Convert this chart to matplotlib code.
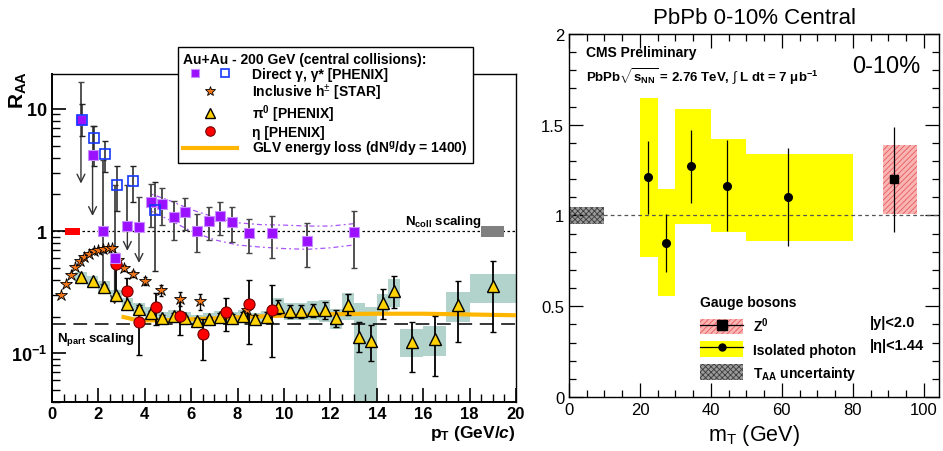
import matplotlib
matplotlib.use('Agg')
import matplotlib.pyplot as plt
from matplotlib.lines import Line2D
from matplotlib.patches import Patch
from matplotlib.legend_handler import HandlerTuple
from matplotlib.ticker import MultipleLocator, FixedLocator, NullFormatter, FuncFormatter

plt.rcParams['font.family'] = ['Liberation Sans', 'DejaVu Sans']
plt.rcParams['mathtext.fontset'] = 'custom'
plt.rcParams['mathtext.rm'] = 'Liberation Sans'
plt.rcParams['mathtext.bf'] = 'Liberation Sans:bold'
plt.rcParams['mathtext.it'] = 'Liberation Sans:italic'
has_bfit = 'mathtext.bfit' in plt.rcParams
if has_bfit:
    plt.rcParams['mathtext.bfit'] = 'Liberation Sans:bold:italic'
plt.rcParams['hatch.linewidth'] = 0.6

# ---- left panel: RHIC Au+Au R_AA ----
# direct photons, filled (PHENIX)
x_dg = [1.25, 1.75, 2.2, 2.7, 3.25, 3.75, 4.25, 4.75, 5.25, 5.75, 6.25, 6.75, 7.25, 7.75, 8.5, 9.5, 11.0, 13.0]
y_dg = [8.1, 4.2, 1.0, 0.6, 1.11, 1.08, 1.72, 1.67, 1.30, 1.43, 1.01, 1.21, 1.34, 1.19, 0.96, 0.96, 0.83, 0.98]
hi_dg = [16.5, 7.2, 3.8, 2.4, 2.4, 1.9, 2.45, 2.24, 1.76, 1.85, 1.37, 1.59, 1.74, 1.59, 1.26, 1.33, 1.16, 1.45]
lo_dg = [2.45, 1.33, 0.37, 0.25, 0.69, 0.55, 1.09, 1.13, 0.84, 1.02, 0.675, 0.84, 0.93, 0.81, 0.66, 0.60, 0.51, 0.50]
ul_dg = [1, 1, 0, 1, 1, 1, 0, 0, 0, 0, 0, 0, 0, 0, 0, 0, 0, 0]

# virtual photons, open (PHENIX)
x_vg = [1.28, 1.8, 2.3, 2.8, 3.5, 4.45]
y_vg = [8.1, 5.8, 4.25, 2.38, 2.58, 1.49]
hi_vg = [11.0, 7.2, 5.5, 3.38, 3.44, 2.5]
lo_vg = [6.0, 3.4, 3.06, 1.45, 1.74, 0.47]

# theory band for direct photons
x_band = [4.3, 5, 6, 7, 8, 9, 10, 11, 12, 13]
y_band_hi = [2.0, 1.8, 1.5, 1.3, 1.17, 1.13, 1.12, 1.1, 1.1, 1.15]
y_band_lo = [1.45, 1.25, 1.0, 0.85, 0.77, 0.74, 0.72, 0.71, 0.73, 0.77]

# inclusive charged hadrons (STAR)
x_h = [0.4, 0.6, 0.8, 1.0, 1.2, 1.4, 1.6, 1.8, 2.0, 2.2, 2.4, 2.6, 2.85, 3.1, 3.5, 4.0, 4.7, 5.5, 6.4, 8.4]
y_h = [0.298, 0.366, 0.441, 0.51, 0.567, 0.615, 0.654, 0.684, 0.705, 0.715, 0.727, 0.727, 0.585, 0.50,
       0.45, 0.39, 0.33, 0.28, 0.268, 0.227]
e_h = [0.01, 0.012, 0.014, 0.016, 0.018, 0.02, 0.02, 0.022, 0.022, 0.024, 0.025, 0.025, 0.025, 0.025,
       0.025, 0.03, 0.035, 0.035, 0.04, 0.04]

# pi0 (PHENIX)
x_pi = [1.25, 1.75, 2.25, 2.75, 3.25, 3.75, 4.25, 4.75, 5.25, 5.75, 6.25, 6.75, 7.25, 7.75, 8.25, 8.75,
        9.25, 9.75, 10.25, 10.75, 11.25, 11.75, 12.25, 12.75, 13.25, 13.75, 14.25, 14.75, 15.5, 16.5, 17.5, 19.0]
y_pi = [0.42, 0.39, 0.352, 0.30, 0.253, 0.229, 0.213, 0.196, 0.203, 0.193, 0.184, 0.19, 0.20, 0.196,
        0.203, 0.19, 0.199, 0.24, 0.223, 0.223, 0.227, 0.226, 0.194, 0.249, 0.137, 0.127, 0.26, 0.323,
        0.125, 0.131, 0.249, 0.355]
lo_pi = [0.41, 0.38, 0.34, 0.29, 0.245, 0.22, 0.205, 0.188, 0.194, 0.184, 0.175, 0.18, 0.188, 0.183,
         0.188, 0.175, 0.18, 0.21, 0.195, 0.195, 0.2, 0.19, 0.165, 0.205, 0.102, 0.087, 0.19, 0.237,
         0.071, 0.065, 0.123, 0.15]
hi_pi = [0.43, 0.40, 0.362, 0.31, 0.262, 0.238, 0.222, 0.205, 0.212, 0.203, 0.194, 0.2, 0.212, 0.21,
         0.218, 0.206, 0.218, 0.275, 0.25, 0.25, 0.255, 0.265, 0.225, 0.305, 0.179, 0.171, 0.334, 0.428,
         0.179, 0.203, 0.39, 0.574]
sys_pi = [0.045, 0.04, 0.037, 0.033, 0.03, 0.027, 0.025, 0.023, 0.024, 0.023, 0.022, 0.023, 0.024, 0.024,
          0.025, 0.024, 0.025, 0.045, 0.035, 0.035, 0.04, 0.045, 0.035, 0.062, 0.12, 0.113, 0.045, 0.085,
          0.032, 0.035, 0.068, 0.095]
hw_pi = [0.25] * 28 + [0.5, 0.5, 0.5, 1.0]

# eta (PHENIX)
x_eta = [2.75, 3.25, 3.75, 4.5, 5.5, 6.5, 7.5, 8.5, 9.5]
y_eta = [0.54, 0.325, 0.182, 0.24, 0.204, 0.145, 0.22, 0.255, 0.227]
lo_eta = [0.30, 0.24, 0.097, 0.17, 0.14, 0.088, 0.152, 0.12, 0.093]
hi_eta = [0.66, 0.415, 0.25, 0.31, 0.285, 0.19, 0.285, 0.395, 0.362]

# GLV energy loss curve
x_glv = [3.0, 3.5, 4.0, 5.0, 6.0, 7.0, 8.0, 10.0, 12.0, 14.0, 16.0, 18.0, 20.0]
y_glv = [0.200, 0.190, 0.186, 0.187, 0.19, 0.193, 0.197, 0.204, 0.209, 0.211, 0.211, 0.208, 0.205]

ncoll_level = 1.0
npart_level = 0.173
ncoll_unc_red = ([0.55, 1.2], 0.07)
ncoll_unc_gray = ([18.5, 19.5], 0.1)

# ---- right panel: CMS PbPb ----
x_ph = [22.3, 27.2, 34.4, 44.4, 61.8]
y_ph = [1.21, 0.85, 1.27, 1.165, 1.10]
stat_ph = [0.20, 0.16, 0.20, 0.25, 0.27]
sys_ph = [0.44, 0.295, 0.316, 0.255, 0.24]
bin_lo_ph = [20, 25, 30, 40, 50]
bin_hi_ph = [25, 30, 40, 50, 80]

x_z = [91.5]
y_z = [1.20]
stat_z = [0.29]
sys_z = [0.19]
bin_lo_z = [88.5]
bin_hi_z = [98.0]

taa_x = [0, 10]
taa_unc = 0.046

fig = plt.figure(figsize=(9.43, 4.52), dpi=100)

# ================= left =================
axL = fig.add_axes([0.0551, 0.1084, 0.4921, 0.7257])
axL.set_yscale('log')
axL.set_xlim(0, 20)
axL.set_ylim(0.04, 19.3)

axL.bar(x_pi, [2 * s for s in sys_pi], bottom=[y - s for y, s in zip(y_pi, sys_pi)],
        width=[2 * w for w in hw_pi], color='#b2d3cb', linewidth=0, zorder=1)

axL.axhline(ncoll_level, color='k', lw=0.9, ls=(0, (2, 2)), zorder=2)
axL.axhline(npart_level, color='k', lw=1.1, ls=(0, (9, 5)), zorder=2)
axL.fill_between(ncoll_unc_red[0], ncoll_level - ncoll_unc_red[1], ncoll_level + ncoll_unc_red[1],
                 color='#ff0000', lw=0, zorder=3)
axL.fill_between(ncoll_unc_gray[0], ncoll_level - ncoll_unc_gray[1], ncoll_level + ncoll_unc_gray[1],
                 color='#808080', lw=0, zorder=3)

axL.plot(x_band, y_band_hi, color='#a855f7', lw=0.9, ls=(0, (1.5, 2.5, 4, 2.5)), zorder=2)
axL.plot(x_band, y_band_lo, color='#a855f7', lw=0.9, ls=(0, (1.5, 2.5, 4, 2.5)), zorder=2)

axL.plot(x_glv, y_glv, color='#ffb600', lw=3, zorder=3, solid_capstyle='butt')

# direct photons: error bars and upper-limit arrows
for x, y, lo, hi, ul in zip(x_dg, y_dg, lo_dg, hi_dg, ul_dg):
    if ul:
        axL.errorbar([x], [y], yerr=[[0], [hi - y]], fmt='none', ecolor='#444444', elinewidth=1.3,
                     capsize=2, zorder=4)
        axL.annotate('', xy=(x, lo), xytext=(x, y),
                     arrowprops=dict(arrowstyle='->', color='#333333', lw=1.0, mutation_scale=14,
                                     shrinkA=0, shrinkB=0), zorder=4)
    else:
        axL.errorbar([x], [y], yerr=[[y - lo], [hi - y]], fmt='none', ecolor='#444444', elinewidth=1.3,
                     capsize=2, zorder=4)
axL.errorbar(x_vg, y_vg, yerr=[[y - l for y, l in zip(y_vg, lo_vg)], [h - y for y, h in zip(y_vg, hi_vg)]],
             fmt='none', ecolor='#222222', elinewidth=1.1, capsize=2, zorder=4)
axL.errorbar(x_h, y_h, yerr=e_h, fmt='none', ecolor='k', elinewidth=1, capsize=1.5, zorder=4)
axL.errorbar(x_pi, y_pi, yerr=[[y - l for y, l in zip(y_pi, lo_pi)], [h - y for y, h in zip(y_pi, hi_pi)]],
             fmt='none', ecolor='k', elinewidth=1.3, capsize=2, zorder=4)
axL.errorbar(x_eta, y_eta, yerr=[[y - l for y, l in zip(y_eta, lo_eta)], [h - y for y, h in zip(y_eta, hi_eta)]],
             fmt='none', ecolor='k', elinewidth=1.3, capsize=2, zorder=4)

m_dg, = axL.plot(x_dg, y_dg, 's', ms=7, mfc='#9a10ff', mec='#c88dff', mew=0.8, ls='none', zorder=6)
m_vg, = axL.plot(x_vg, y_vg, 's', ms=7, mfc='none', mec='#1438ff', mew=1.2, ls='none', zorder=6)
m_h, = axL.plot(x_h, y_h, '*', ms=9, mfc='#f07418', mec='k', mew=0.6, ls='none', zorder=5)
m_pi, = axL.plot(x_pi, y_pi, '^', ms=8.5, mfc='#ffd200', mec='k', mew=1.0, ls='none', zorder=5)
m_eta, = axL.plot(x_eta, y_eta, 'o', ms=8, mfc='#ff0000', mec='#700000', mew=0.8, ls='none', zorder=5)
l_glv = Line2D([], [], color='#ffb600', lw=3)

axL.text(15.2, 1.22, r'$\mathbf{N_{coll}}$ scaling', fontsize=9.5, fontweight='bold', va='center', ha='left')
axL.text(0.2, 0.133, r'$\mathbf{N_{part}}$ scaling', fontsize=9.5, fontweight='bold', va='center', ha='left')

for sp in ['top', 'right']:
    axL.spines[sp].set_linewidth(1.0)
for sp in ['left', 'bottom']:
    axL.spines[sp].set_linewidth(1.4)
axL.xaxis.set_major_locator(MultipleLocator(2))
axL.xaxis.set_minor_locator(MultipleLocator(0.5))
axL.yaxis.set_major_locator(FixedLocator([0.1, 1, 10]))
axL.yaxis.set_minor_locator(FixedLocator([m * 10.0 ** e for e in (-2, -1, 0, 1) for m in range(2, 10)]))
axL.yaxis.set_minor_formatter(NullFormatter())
ylab = {0.1: r'$\mathbf{10^{-1}}$', 1: r'$\mathbf{1}$', 10: r'$\mathbf{10}$'}
axL.yaxis.set_major_formatter(FuncFormatter(lambda v, p: ylab.get(round(v, 3), '')))
axL.tick_params(which='both', direction='in', top=False, right=False)
axL.tick_params(which='major', length=10, width=1.2, labelsize=13)
axL.tick_params(which='minor', length=6, width=1.0)
axL.tick_params(axis='x', labelsize=12, pad=3)
for t in axL.get_xticklabels():
    t.set_fontweight('bold')

c_tex = r'$\mathbfit{c}$' if has_bfit else r'$\mathit{c}$'
axL.text(1.0, -0.094, r'$\mathbf{p_T}$ (GeV/' + c_tex + ')', transform=axL.transAxes, ha='right', va='center',
         fontsize=12.5, fontweight='bold')
fig.text(0.019, 0.843, r'$\mathbf{R_{AA}}$', rotation=90, ha='center', va='top', fontsize=15, fontweight='bold')

leg = axL.legend([(m_dg, m_vg), m_h, m_pi, m_eta, l_glv],
                 [r'Direct γ, γ* [PHENIX]', r'Inclusive h$^{\pm}$ [STAR]', r'π$^{\mathbf{0}}$ [PHENIX]',
                  r'η [PHENIX]', r'GLV energy loss (dN$^{\mathbf{g}}$/dy = 1400)'],
                 handler_map={tuple: HandlerTuple(ndivide=None, pad=0.3)},
                 title='Au+Au - 200 GeV (central collisions):', alignment='left',
                 loc='upper left', bbox_to_anchor=(178 / 943, 1 - 48 / 452), bbox_transform=fig.transFigure,
                 prop={'size': 10, 'weight': 'bold'}, title_fontproperties={'size': 10, 'weight': 'bold'},
                 frameon=True, fancybox=False, edgecolor='k', framealpha=1, borderpad=0.35,
                 handlelength=3.9, handletextpad=1.1, labelspacing=0.05, borderaxespad=0, markerscale=0.85)
leg.get_frame().set_linewidth(1.0)
leg.set_zorder(20)

# ================= right =================
axR = fig.add_axes([0.6034, 0.1195, 0.3924, 0.8031])
axR.set_xlim(0, 104.3)
axR.set_ylim(0, 2)

axR.bar(bin_lo_ph, [2 * s for s in sys_ph], bottom=[y - s for y, s in zip(y_ph, sys_ph)],
        width=[h - l for l, h in zip(bin_lo_ph, bin_hi_ph)], align='edge', color='#ffff00', lw=0, zorder=1)
axR.bar(bin_lo_z, [2 * s for s in sys_z], bottom=[y - s for y, s in zip(y_z, sys_z)],
        width=[h - l for l, h in zip(bin_lo_z, bin_hi_z)], align='edge', facecolor='#f9b4b4',
        edgecolor='#e85a5a', hatch='//////', lw=0, zorder=1)
axR.fill_between(taa_x, 1 - taa_unc, 1 + taa_unc, facecolor='#9a9a9a', edgecolor='#3c3c3c',
                 hatch='xxxxxx', lw=0, zorder=1)
axR.axhline(1.0, color='#555555', lw=0.9, ls=(0, (3, 2.5)), zorder=2)

axR.errorbar(x_ph, y_ph, yerr=stat_ph, fmt='o', ms=5.5, color='k', elinewidth=0.9, capsize=0, zorder=4)
axR.errorbar(x_z, y_z, yerr=stat_z, fmt='s', ms=6, color='k', elinewidth=0.9, capsize=0, zorder=4)

axR.xaxis.set_major_locator(MultipleLocator(20))
axR.xaxis.set_minor_locator(MultipleLocator(5))
axR.yaxis.set_major_locator(MultipleLocator(0.5))
axR.yaxis.set_minor_locator(MultipleLocator(0.1))
axR.yaxis.set_major_formatter(FuncFormatter(lambda v, p: '%g' % v))
axR.tick_params(which='both', direction='in', top=True, right=True, labelsize=12)
axR.tick_params(which='major', length=10, width=0.9)
axR.tick_params(which='minor', length=5, width=0.9)
for sp in axR.spines.values():
    sp.set_linewidth(1.0)
axR.set_xlabel(r'm$_{\mathrm{T}}$ (GeV)', fontsize=15.5, labelpad=4)
axR.set_title('PbPb 0-10% Central', fontsize=16, pad=8)

axR.text(0.046, 0.95, 'CMS Preliminary', transform=axR.transAxes, fontsize=10, fontweight='bold',
         va='center')
axR.text(0.046, 0.884, r'PbPb$\mathbf{\sqrt{s_{NN}}}$ = 2.76 TeV, $\int$ L dt = 7 μb$^{\mathbf{-1}}$',
         transform=axR.transAxes, fontsize=9.5, fontweight='bold', va='center')
axR.text(0.95, 0.912, '0-10%', transform=axR.transAxes, fontsize=17, ha='right', va='center')

h_z = (Patch(facecolor='#f9b4b4', edgecolor='#e85a5a', hatch='//////', lw=0),
       Line2D([], [], color='k', lw=0.9, marker='s', ms=7))
h_ph = (Patch(facecolor='#ffff00', lw=0), Line2D([], [], color='k', lw=0.9, marker='o', ms=5))
h_taa = Patch(facecolor='#9a9a9a', edgecolor='#3c3c3c', hatch='xxxxxx', lw=0)
legR = axR.legend([h_z, h_ph, h_taa], [r'Z$^{\mathbf{0}}$', 'Isolated photon', r'T$_{\mathbf{AA}}$ uncertainty'],
                  handler_map={tuple: HandlerTuple(ndivide=1)}, title='Gauge bosons', alignment='left',
                  loc='upper left', bbox_to_anchor=(0.355, 0.282), frameon=False,
                  prop={'size': 10, 'weight': 'bold'}, title_fontproperties={'size': 10, 'weight': 'bold'},
                  handlelength=3.1, handleheight=1.35, handletextpad=0.7, labelspacing=0.5, borderpad=0,
                  borderaxespad=0)
axR.text(0.812, 0.207, '|y|<2.0', transform=axR.transAxes, fontsize=10.5, fontweight='bold', va='center')
axR.text(0.812, 0.143, '|η|<1.44', transform=axR.transAxes, fontsize=10.5, fontweight='bold', va='center')

fig.savefig('out.png', dpi=100)
